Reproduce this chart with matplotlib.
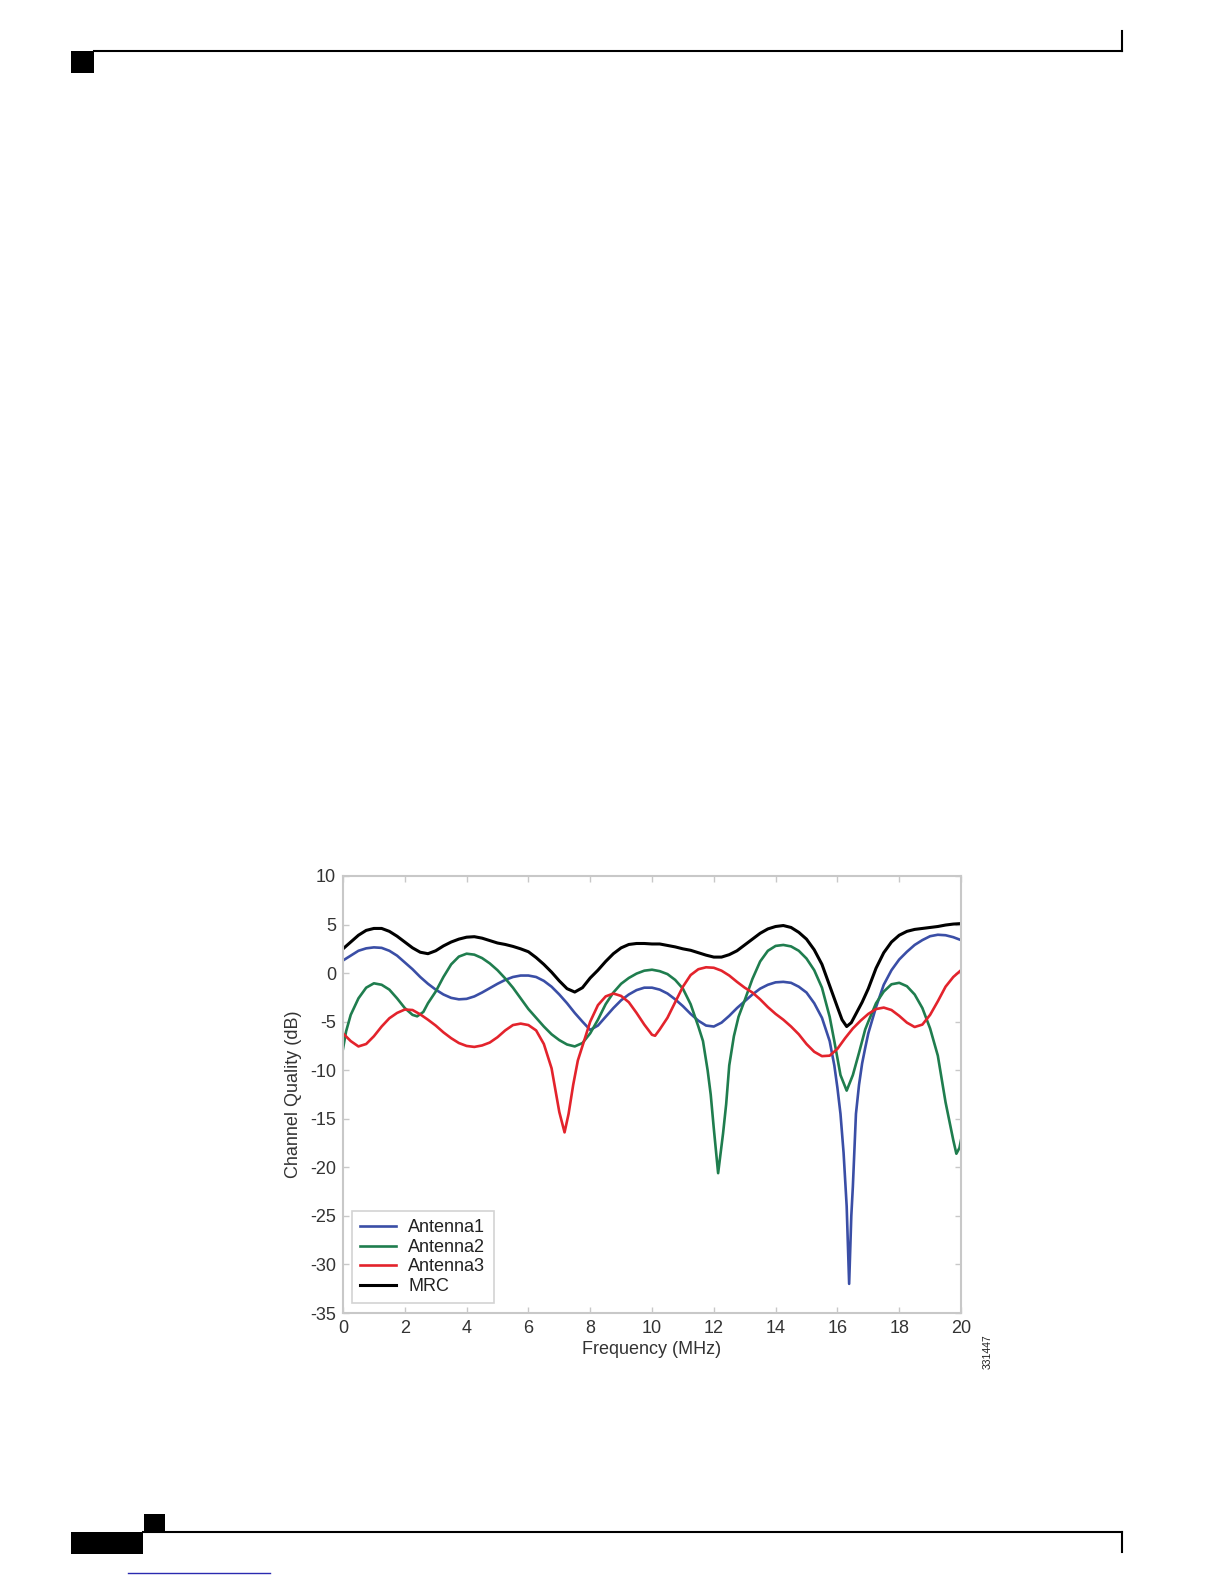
import matplotlib
matplotlib.use("Agg")
import matplotlib.pyplot as plt
from matplotlib.lines import Line2D
from matplotlib.patches import Rectangle

plt.rcParams['font.family'] = ['Liberation Sans', 'DejaVu Sans']

# ---------------- data ----------------
mrc_x = [0, 0.25, 0.5, 0.75, 1.0, 1.25, 1.5, 1.75, 2.0, 2.25, 2.5, 2.75, 3.0, 3.25, 3.5,
         3.75, 4.0, 4.25, 4.5, 4.75, 5.0, 5.25, 5.5, 5.75, 6.0, 6.25, 6.5, 6.75, 7.0, 7.25,
         7.5, 7.75, 8.0, 8.25, 8.5, 8.75, 9.0, 9.25, 9.5, 9.75, 10.0, 10.25, 10.5, 10.75,
         11.0, 11.25, 11.5, 11.75, 12.0, 12.25, 12.5, 12.75, 13.0, 13.25, 13.5, 13.75, 14.0,
         14.25, 14.5, 14.75, 15.0, 15.25, 15.5, 15.75, 16.0, 16.15, 16.3, 16.45, 16.6, 16.8,
         17.0, 17.25, 17.5, 17.75, 18.0, 18.25, 18.5, 18.75, 19.0, 19.25, 19.5, 19.75, 20.0]
mrc_y = [2.5, 3.2, 3.9, 4.4, 4.6, 4.6, 4.3, 3.8, 3.2, 2.6, 2.15, 2.0, 2.3, 2.8, 3.2,
         3.5, 3.7, 3.75, 3.6, 3.35, 3.1, 2.95, 2.75, 2.5, 2.2, 1.6, 0.9, 0.1, -0.8, -1.6,
         -1.95, -1.5, -0.5, 0.3, 1.2, 2.0, 2.6, 2.95, 3.05, 3.05, 3.0, 3.0, 2.85, 2.7,
         2.5, 2.35, 2.1, 1.85, 1.65, 1.65, 1.9, 2.3, 2.9, 3.5, 4.1, 4.55, 4.8,
         4.9, 4.7, 4.2, 3.5, 2.4, 0.9, -1.3, -3.5, -4.8, -5.5, -5.1, -4.2, -3.0,
         -1.6, 0.5, 2.1, 3.2, 3.9, 4.3, 4.5, 4.6, 4.7, 4.8, 4.95, 5.05, 5.1]

a1_x = [0, 0.25, 0.5, 0.75, 1.0, 1.25, 1.5, 1.75, 2.0, 2.25, 2.5, 2.75, 3.0, 3.25, 3.5,
        3.75, 4.0, 4.25, 4.5, 4.75, 5.0, 5.25, 5.5, 5.75, 6.0, 6.25, 6.5, 6.75, 7.0, 7.25,
        7.5, 7.75, 8.0, 8.25, 8.5, 8.75, 9.0, 9.25, 9.5, 9.75, 10.0, 10.25, 10.5, 10.75,
        11.0, 11.25, 11.5, 11.75, 12.0, 12.25, 12.5, 12.75, 13.0, 13.25, 13.5, 13.75, 14.0,
        14.25, 14.5, 14.75, 15.0, 15.25, 15.5, 15.75, 15.9, 16.0, 16.1, 16.2, 16.3, 16.38,
        16.45, 16.5, 16.6, 16.7, 16.8, 16.9, 17.0, 17.25, 17.5, 17.75, 18.0, 18.25, 18.5,
        18.75, 19.0, 19.25, 19.5, 19.75, 20.0]
a1_y = [1.3, 1.8, 2.3, 2.55, 2.65, 2.6, 2.3, 1.8, 1.1, 0.4, -0.4, -1.1, -1.7, -2.2, -2.55,
        -2.7, -2.65, -2.4, -2.0, -1.55, -1.1, -0.7, -0.4, -0.25, -0.25, -0.4, -0.8, -1.4, -2.2, -3.1,
        -4.1, -5.0, -5.85, -5.4, -4.5, -3.6, -2.8, -2.2, -1.75, -1.5, -1.5, -1.7, -2.1, -2.7,
        -3.4, -4.2, -4.9, -5.4, -5.5, -5.1, -4.4, -3.6, -2.9, -2.2, -1.6, -1.2, -0.95,
        -0.9, -1.0, -1.4, -2.0, -3.1, -4.6, -7.0, -9.5, -11.8, -14.5, -18.5, -24.0, -32.0,
        -25.0, -22.0, -14.5, -11.5, -9.3, -7.7, -6.2, -3.5, -1.2, 0.3, 1.4, 2.2, 2.9,
        3.4, 3.8, 3.95, 3.9, 3.7, 3.4]

a2_x = [0, 0.1, 0.25, 0.5, 0.75, 1.0, 1.25, 1.5, 1.75, 2.0, 2.25, 2.4, 2.6, 2.75, 3.0,
        3.25, 3.5, 3.75, 4.0, 4.25, 4.5, 4.75, 5.0, 5.25, 5.5, 5.75, 6.0, 6.25, 6.5, 6.75,
        7.0, 7.25, 7.5, 7.75, 8.0, 8.25, 8.5, 8.75, 9.0, 9.25, 9.5, 9.75, 10.0, 10.25, 10.5,
        10.75, 11.0, 11.25, 11.5, 11.65, 11.8, 11.9, 12.0, 12.14, 12.3, 12.4, 12.5, 12.65,
        12.8, 13.0, 13.25, 13.5, 13.75, 14.0, 14.25, 14.5, 14.75, 15.0, 15.25, 15.5, 15.75,
        15.9, 16.1, 16.3, 16.5, 16.7, 16.9, 17.0, 17.25, 17.5, 17.75, 18.0, 18.25, 18.5,
        18.75, 19.0, 19.25, 19.5, 19.75, 19.85, 19.95, 20.0]
a2_y = [-7.8, -6.0, -4.3, -2.6, -1.5, -1.05, -1.2, -1.7, -2.6, -3.6, -4.3, -4.45, -4.0, -3.1, -1.9,
        -0.4, 0.9, 1.7, 2.0, 1.9, 1.55, 1.0, 0.3, -0.55, -1.5, -2.6, -3.7, -4.6, -5.5, -6.3,
        -6.9, -7.35, -7.55, -7.2, -6.2, -4.8, -3.2, -2.0, -1.1, -0.5, -0.05, 0.25, 0.35, 0.2, -0.1,
        -0.7, -1.6, -3.2, -5.5, -7.0, -10.0, -12.5, -16.0, -20.6, -16.5, -13.5, -9.5, -6.5,
        -4.5, -2.8, -0.6, 1.2, 2.3, 2.8, 2.9, 2.75, 2.3, 1.5, 0.3, -1.5, -4.5,
        -7.0, -10.5, -12.1, -10.5, -8.2, -5.8, -5.0, -3.1, -1.9, -1.15, -1.0, -1.35, -2.2,
        -3.6, -5.7, -8.5, -13.3, -17.2, -18.6, -18.0, -17.2]

a3_x = [0, 0.25, 0.5, 0.75, 1.0, 1.25, 1.5, 1.75, 2.0, 2.25, 2.5, 2.75, 3.0, 3.25, 3.5,
        3.75, 4.0, 4.25, 4.5, 4.75, 5.0, 5.25, 5.5, 5.75, 6.0, 6.25, 6.5, 6.75, 6.9, 7.0,
        7.17, 7.3, 7.45, 7.6, 7.75, 8.0, 8.25, 8.5, 8.75, 9.0, 9.25, 9.5, 9.75, 10.0, 10.1,
        10.25, 10.5, 10.75, 11.0, 11.25, 11.5, 11.75, 12.0, 12.25, 12.5, 12.75, 13.0, 13.25,
        13.5, 13.75, 14.0, 14.25, 14.5, 14.75, 15.0, 15.25, 15.5, 15.75, 16.0, 16.25, 16.5,
        16.75, 17.0, 17.25, 17.5, 17.75, 18.0, 18.25, 18.5, 18.75, 19.0, 19.25, 19.5, 19.75, 20.0]
a3_y = [-6.2, -7.0, -7.55, -7.3, -6.5, -5.5, -4.65, -4.1, -3.75, -3.8, -4.25, -4.8, -5.4, -6.1, -6.7,
        -7.2, -7.5, -7.6, -7.45, -7.15, -6.6, -5.9, -5.35, -5.2, -5.35, -5.9, -7.3, -9.8, -12.5, -14.3,
        -16.4, -14.5, -11.5, -9.0, -7.5, -5.0, -3.3, -2.4, -2.1, -2.35, -3.0, -4.1, -5.3, -6.35, -6.45,
        -5.8, -4.6, -3.0, -1.4, -0.2, 0.4, 0.6, 0.55, 0.25, -0.25, -0.9, -1.5, -2.0,
        -2.7, -3.5, -4.2, -4.8, -5.5, -6.3, -7.3, -8.1, -8.55, -8.5, -7.8, -6.7, -5.7,
        -4.9, -4.2, -3.7, -3.55, -3.8, -4.4, -5.1, -5.55, -5.3, -4.3, -2.9, -1.4, -0.4, 0.3]

series_names = ["Antenna1", "Antenna2", "Antenna3", "MRC"]
series_colors = ["#3a4ea6", "#1f7d4e", "#e3232c", "#000000"]

x_ticks = [0, 2, 4, 6, 8, 10, 12, 14, 16, 18, 20]
y_ticks = [-35, -30, -25, -20, -15, -10, -5, 0, 5, 10]

# ---------------- figure ----------------
W, H = 1224, 1584
fig = plt.figure(figsize=(W / 100, H / 100), dpi=100)
fig.patch.set_facecolor("white")

def fx(px):
    return px / W

def fy(py):
    return 1 - py / H

# page decorations
fig.add_artist(Line2D([fx(94), fx(1122)], [fy(50.5), fy(50.5)], color="black", lw=1.5))
fig.add_artist(Line2D([fx(1122), fx(1122)], [fy(31), fy(51)], color="black", lw=1.5))
fig.add_artist(Rectangle((fx(71), fy(73)), fx(94) - fx(71), fy(51) - fy(73), color="black", lw=0))
fig.add_artist(Line2D([fx(143), fx(1122)], [fy(1532), fy(1532)], color="black", lw=1.5))
fig.add_artist(Line2D([fx(1122), fx(1122)], [fy(1532), fy(1552)], color="black", lw=1.5))
fig.add_artist(Rectangle((fx(71), fy(1554)), fx(143) - fx(71), fy(1532) - fy(1554), color="black", lw=0))
fig.add_artist(Rectangle((fx(144), fy(1532)), fx(165) - fx(144), fy(1514) - fy(1532), color="black", lw=0))
fig.add_artist(Line2D([fx(128), fx(270)], [fy(1573), fy(1573)], color="#2a2ab0", lw=1.0))

ax = fig.add_axes([fx(343), fy(1313), (961 - 343) / W, (1313 - 876) / H])

ax.plot(a1_x, a1_y, color=series_colors[0], lw=1.9, label=series_names[0])
ax.plot(a2_x, a2_y, color=series_colors[1], lw=1.9, label=series_names[1])
ax.plot(a3_x, a3_y, color=series_colors[2], lw=1.9, label=series_names[2])
ax.plot(mrc_x, mrc_y, color=series_colors[3], lw=2.2, label=series_names[3])

ax.set_xlim(0, 20)
ax.set_ylim(-35, 10)
ax.set_xticks(x_ticks)
ax.set_yticks(y_ticks)
ax.set_xticklabels([str(v) for v in x_ticks])
ax.set_yticklabels([str(v) for v in y_ticks])

for s in ax.spines.values():
    s.set_color("#c8c8c8")
    s.set_linewidth(1.5)
ax.tick_params(direction="in", length=4, width=1, color="#c8c8c8",
               top=True, right=True, labelsize=13, labelcolor="#333333", pad=5)

ax.set_xlabel("Frequency (MHz)", fontsize=13, color="#333333", labelpad=3)
ax.set_ylabel("Channel Quality (dB)", fontsize=13, color="#333333", labelpad=6)

leg = ax.legend(loc="lower left", bbox_to_anchor=(8.5 / 618, 10 / 437), borderaxespad=0,
                fontsize=13, frameon=True, fancybox=False, labelspacing=0.14,
                handlelength=2.0, handletextpad=0.7, borderpad=0.45)
leg.get_frame().set_edgecolor("#c8c8c8")
leg.get_frame().set_linewidth(1.2)
for t in leg.get_texts():
    t.set_color("#222222")

fig.text(fx(988), fy(1352), "331447", rotation=90, ha="center", va="center",
         fontsize=7.5, color="#222222")

fig.savefig("out.png", dpi=100, facecolor="white")
